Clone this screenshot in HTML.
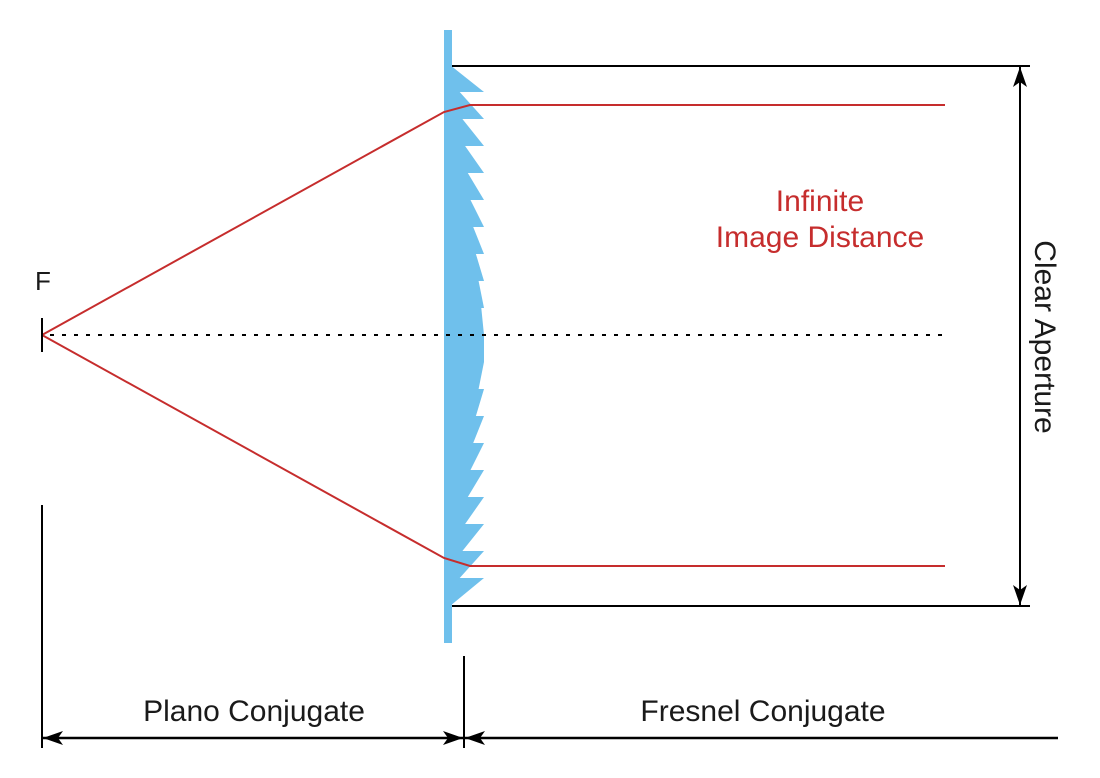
<!DOCTYPE html>
<html><head><style>body{margin:0;background:#fff}svg{display:block}</style></head><body>
<svg width="1100" height="778" viewBox="0 0 1100 778" xmlns="http://www.w3.org/2000/svg" font-family="Liberation Sans, sans-serif">
<defs>
<marker id="b" viewBox="0 0 20 14" refX="20" refY="7" markerWidth="20" markerHeight="14" markerUnits="userSpaceOnUse" orient="auto-start-reverse"><path d="M0,0 L20,7 L0,14 L5,7 Z" fill="#000"/></marker>
</defs>
<rect x="444" y="30" width="8" height="613" fill="#6fc0ec"/>
<path fill="#6fc0ec" d="M450,65 L484,92 L459.7,92 L484,119 L462.4,119 L484,146 L465.1,146 L484,173 L467.8,173 L484,200 L470.5,200 L484,227 L473.2,227 L484,254 L475.9,254 L484,281 L478.6,281 L484,308 L481.3,308 L484,335 L484,362 L481.3,362 L484,362 L478.6,389 L484,389 L475.9,416 L484,416 L473.2,443 L484,443 L470.5,470 L484,470 L467.8,497 L484,497 L465.1,524 L484,524 L462.4,551 L484,551 L459.7,578 L484,578 L450,606 Z"/>
<g stroke="#c62d2d" stroke-width="2" fill="none">
<polyline points="42,335 444,112 470,105 945,105"/>
<polyline points="42,335 444,558 470,566 945,566"/>
</g>
<line x1="50" y1="335" x2="945" y2="335" stroke="#000" stroke-width="2" stroke-dasharray="4,8"/>
<line x1="42" y1="318" x2="42" y2="352" stroke="#000" stroke-width="2"/>
<line x1="452" y1="66" x2="1030" y2="66" stroke="#000" stroke-width="2"/>
<line x1="452" y1="606" x2="1030" y2="606" stroke="#000" stroke-width="2"/>
<line x1="1020" y1="67" x2="1020" y2="605" stroke="#000" stroke-width="2" marker-start="url(#b)" marker-end="url(#b)"/>
<line x1="42" y1="505" x2="42" y2="748" stroke="#000" stroke-width="2"/>
<line x1="464" y1="656" x2="464" y2="748" stroke="#000" stroke-width="2"/>
<line x1="43" y1="738" x2="463" y2="738" stroke="#000" stroke-width="2.5" marker-start="url(#b)" marker-end="url(#b)"/>
<line x1="1058" y1="738" x2="465" y2="738" stroke="#000" stroke-width="2.5" marker-end="url(#b)"/>
<g font-size="30" fill="#1a1a1a">
<text x="43" y="290" text-anchor="middle" font-size="26">F</text>
<text x="254" y="721" text-anchor="middle">Plano Conjugate</text>
<text x="763" y="721" text-anchor="middle">Fresnel Conjugate</text>
<text transform="translate(1035,337) rotate(90)" text-anchor="middle">Clear Aperture</text>
</g>
<g font-size="30" fill="#c62d2d" text-anchor="middle">
<text x="820" y="211">Infinite</text>
<text x="820" y="247">Image Distance</text>
</g>
</svg>
</body></html>
